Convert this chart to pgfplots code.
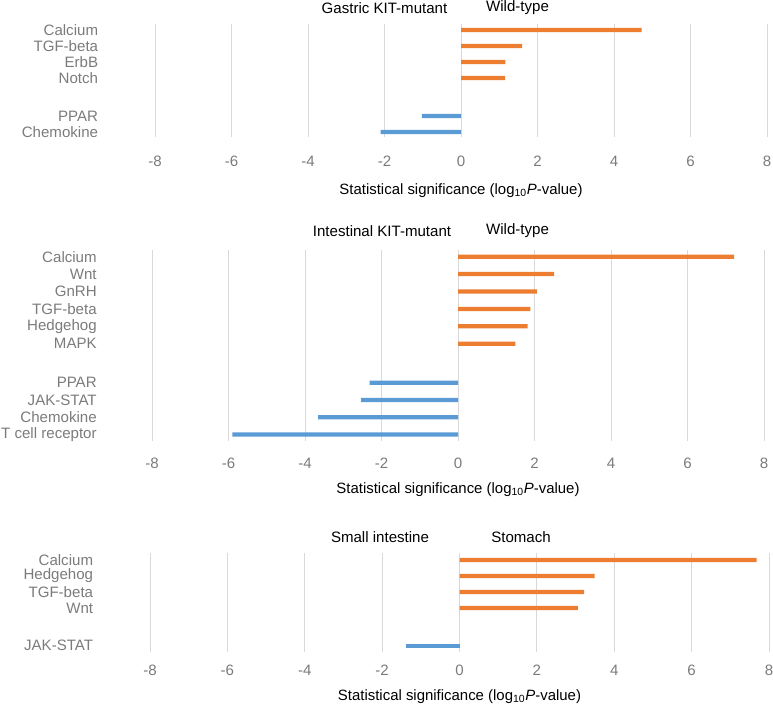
\documentclass[border=0pt]{standalone}
\usepackage{fontspec}
\setmainfont{Liberation Sans}
\usepackage{pgfplots}
\pgfplotsset{compat=1.18}

\definecolor{barorange}{HTML}{ED7D31}
\definecolor{barblue}{HTML}{5B9BD5}
\definecolor{gridgray}{HTML}{D9D9D9}
\definecolor{labelgray}{HTML}{7B7B7B}

\def\px{0.75pt}

\pgfplotsset{
  panel/.style 2 args={
    scale only axis,
    xmin=-8, xmax=8,
    xtick={-8,-6,...,8},
    y dir=reverse,
    axis line style={draw=none},
    major tick length=0pt,
    xmajorgrids,
    grid style={gridgray, line width=0.75pt},
    xbar, bar width=3.2pt, bar shift=0pt,
    tick label style={font=\fontsize{11.3}{14}\selectfont, text=labelgray},
    /pgf/number format/assume math mode=true,
    yticklabel style={anchor=east, inner sep=0pt, xshift=-42.5pt},
    xticklabel style={anchor=base, inner sep=0pt, yshift={-#1*\px}},
    xlabel={Statistical significance (log\textsubscript{10}\textit{P}-value)},
    xlabel style={at={(axis description cs:0.5,0)}, anchor=base, inner sep=0pt,
      yshift={-#2*\px}, font=\fontsize{11.2}{13}\selectfont, text=black},
  },
  pos/.style={draw=none, fill=barorange},
  neg/.style={draw=none, fill=barblue},
}

\begin{document}
\begin{tikzpicture}
\useasboundingbox (0,0) rectangle ({773*\px},{-705*\px});
\tikzset{ttl/.style={font=\fontsize{11.3}{13}\selectfont, text=black, inner sep=0pt}}

% Gastric
\begin{axis}[panel={29.7}{57}, at={({155*\px},{-24*\px})}, anchor=north west,
  width={612*\px}, height={113*\px},
  ymin=-0.375, ymax=6.69,
  ytick={0,1,2,3,5.375,6.375},
  yticklabels={Calcium,TGF-beta,ErbB,Notch,PPAR,Chemokine}]
\addplot[pos] coordinates {(4.72,0) (1.60,1) (1.16,2) (1.15,3)};
\addplot[neg] coordinates {(-1.02,5.375) (-2.10,6.375)};
\end{axis}
\node[ttl] at ({384.5*\px},{-8*\px}) {Gastric KIT-mutant};
\node[ttl] at ({517.5*\px},{-8*\px}) {Wild-type};

% Intestinal
\begin{axis}[panel={27.3}{52.3}, at={({152*\px},{-250*\px})}, anchor=north west,
  width={612*\px}, height={191*\px},
  yticklabel style={xshift=1.2pt},
  ymin=-0.385, ymax=10.59,
  ytick={0,1,2,3,4,5,7.24,8.24,9.22,10.22},
  yticklabels={Calcium,Wnt,GnRH,TGF-beta,Hedgehog,MAPK,PPAR,JAK-STAT,Chemokine,T cell receptor}]
\addplot[pos] coordinates {(7.22,0) (2.51,1) (2.06,2) (1.89,3) (1.82,4) (1.50,5)};
\addplot[neg] coordinates {(-2.31,7.24) (-2.53,8.24) (-3.66,9.22) (-5.90,10.22)};
\end{axis}
\node[ttl] at ({382*\px},{-231*\px}) {Intestinal KIT-mutant};
\node[ttl] at ({517.5*\px},{-231*\px}) {Wild-type};

% Small intestine vs stomach
\begin{axis}[panel={23}{48}, at={({150*\px},{-553*\px})}, anchor=north west,
  width={619*\px}, height={99*\px},
  ymin=-0.44, ymax=5.75,
  ytick={0,1,2,3,5.36},
  yticklabels={Calcium,Hedgehog,TGF-beta,Wnt,JAK-STAT}]
\addplot[pos] coordinates {(7.68,0) (3.49,1) (3.22,2) (3.06,3)};
\addplot[neg] coordinates {(-1.39,5.36)};
\end{axis}
\node[ttl] at ({380*\px},{-537*\px}) {Small intestine};
\node[ttl] at ({521*\px},{-537*\px}) {Stomach};
\end{tikzpicture}
\end{document}
